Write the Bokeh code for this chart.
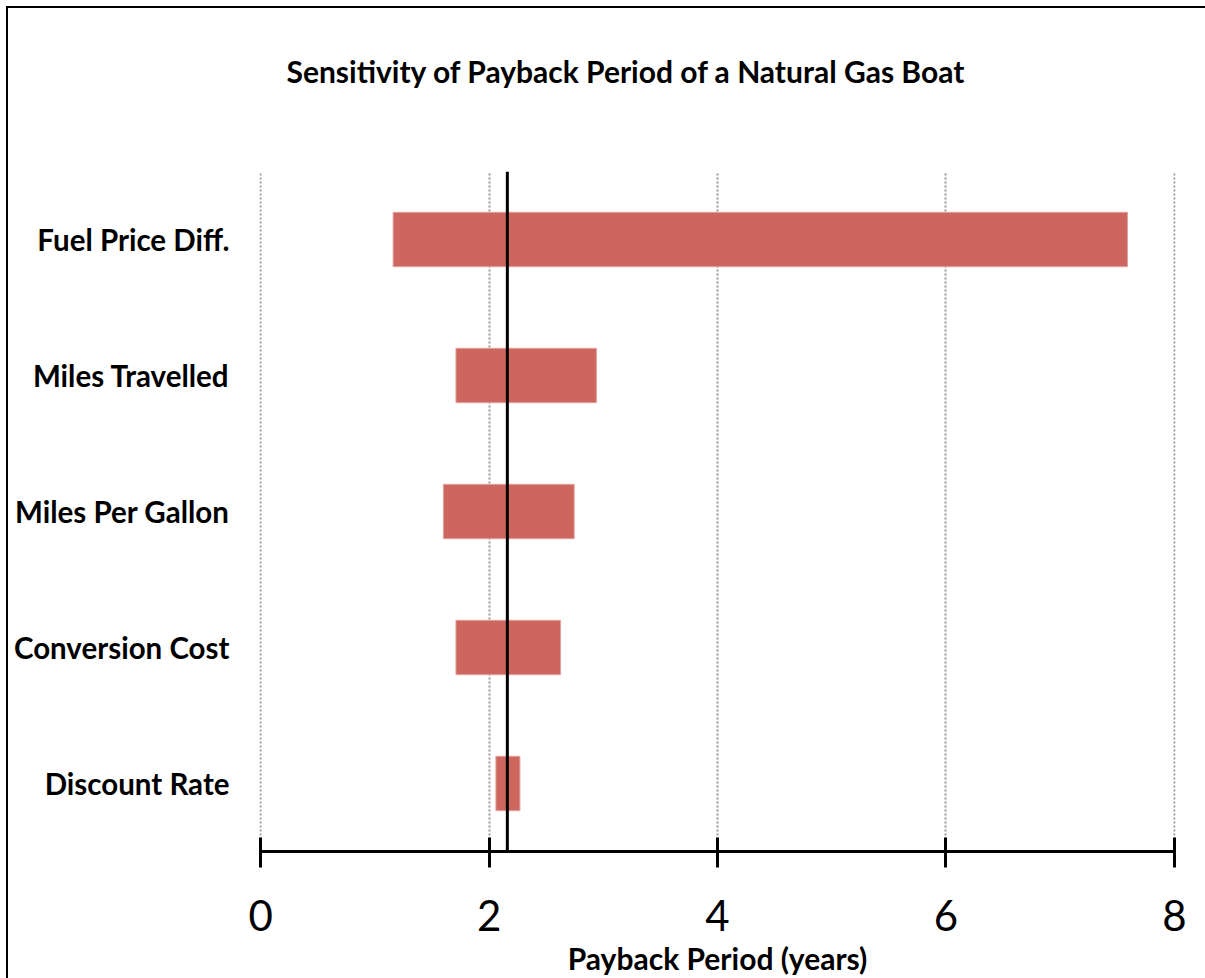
from bokeh.plotting import figure
from bokeh.models import Span, ColumnDataSource, FixedTicker, Range1d, Title, LinearAxis
from bokeh.embed import file_html
from bokeh.resources import INLINE

categories = ["Fuel Price Diff.", "Miles Travelled", "Miles Per Gallon", "Conversion Cost", "Discount Rate"]
low_values = [1.16, 1.71, 1.60, 1.71, 2.06]
high_values = [7.59, 2.94, 2.745, 2.626, 2.27]
base_value = 2.16
x_ticks = [0, 2, 4, 6, 8]
title_text = "Sensitivity of Payback Period of a Natural Gas Boat"
x_label = "Payback Period (years)"

FONT = "Lato"

src = ColumnDataSource(dict(cat=categories, low=low_values, high=high_values))

p = figure(
    width=1205, height=978,
    y_range=list(reversed(categories)),
    x_range=Range1d(-0.01, 8.01),
    output_backend="svg", toolbar_location=None,
    min_border_left=259, min_border_right=30, min_border_top=171, min_border_bottom=122,
)
p.border_fill_color = None
p.styles = {
    "background": "linear-gradient(#000,#000) 6px 6px / 2px 100% no-repeat, "
                  "linear-gradient(#000,#000) 6px 6px / 100% 2px no-repeat, #ffffff"
}
p.outline_line_color = None

p.hbar(y="cat", left="low", right="high", height=0.4, source=src,
       fill_color="#CC665F", line_color="#E3A29D", line_width=1)

p.add_layout(Span(location=base_value, dimension="height", line_color="black", line_width=3))

# blank spacer (white minor ticks only, no labels) between frame and title
spacer = LinearAxis(ticker=FixedTicker(ticks=[], minor_ticks=x_ticks), axis_line_color=None,
                    major_tick_line_color=None, minor_tick_line_color="white",
                    minor_tick_line_width=1,
                    major_tick_in=0, major_tick_out=0, minor_tick_in=0, minor_tick_out=83,
                    major_label_standoff=0)
p.add_layout(spacer, "above")

p.add_layout(Title(text=title_text, align="left", offset=27, standoff=0,
                   text_font=FONT, text_font_style="bold", text_font_size="30px",
                   text_color="black"), "above")

# x axis
xa = p.below[0]
xa.ticker = FixedTicker(ticks=x_ticks)
xa.axis_line_width = 3
xa.axis_line_color = "black"
xa.major_tick_line_width = 3
xa.major_tick_line_color = "black"
xa.major_tick_in = 14
xa.major_tick_out = 16
xa.minor_tick_line_color = None
xa.major_label_text_font = FONT
xa.major_label_text_font_size = "42px"
xa.major_label_text_color = "black"
xa.major_label_standoff = 32
xa.axis_label = x_label
xa.axis_label_text_font = FONT
xa.axis_label_text_font_size = "30px"
xa.axis_label_text_font_style = "bold"
xa.axis_label_text_color = "black"
xa.axis_label_standoff = 6

# y axis
p.yaxis.axis_line_color = None
p.yaxis.major_tick_line_color = None
p.yaxis.minor_tick_line_color = None
p.yaxis.major_label_text_font = FONT
p.yaxis.major_label_text_font_size = "29.5px"
p.yaxis.major_label_text_font_style = "bold"
p.yaxis.major_label_text_color = "black"
p.yaxis.major_label_standoff = 24

# grid
p.xgrid.ticker = FixedTicker(ticks=x_ticks)
p.xgrid.grid_line_color = "#999999"
p.xgrid.grid_line_width = 2
p.xgrid.grid_line_dash = "2 2"
p.ygrid.grid_line_color = None

open("out.html", "w").write(file_html(p, INLINE))
